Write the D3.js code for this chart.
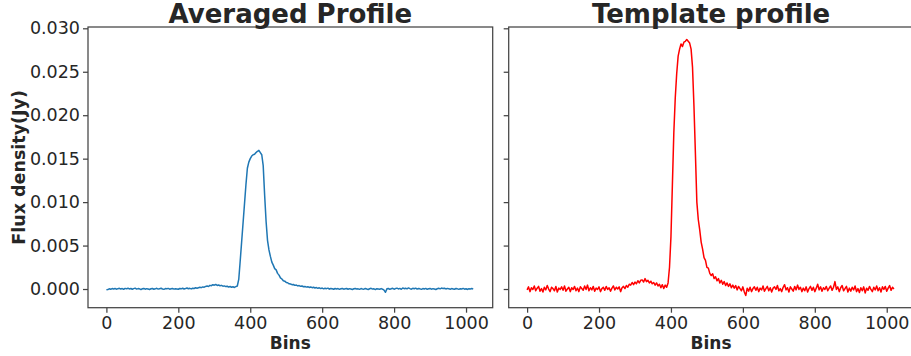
<!DOCTYPE html>
<html>
<head>
<meta charset="utf-8">
<script src="https://cdn.jsdelivr.net/npm/d3@7"></script>
<style>
  body { margin: 0; background: #fff; }
  svg { display: block; font-family: "DejaVu Sans", sans-serif; }
</style>
</head>
<body>
<svg id="chart" width="911" height="356"></svg>
<script>
var binStep = 4
var avgFlux_mJy = [
  -0.10, -0.05, 0.02, -0.03, 0.05, 0.01, 0.06, -0.02, 0.04, 0.08, 0.00, 0.05, -0.04, 0.07, 0.02, 0.09,
  0.01, 0.06, -0.03, 0.04, 0.10, -0.01, 0.05, 0.02, -0.06, 0.03, 0.07, -0.02, 0.04, 0.00, -0.05, 0.03,
  0.06, -0.03, 0.02, 0.08, -0.01, 0.04, 0.09, 0.00, -0.04, 0.05, 0.02, 0.07, -0.02, 0.03, 0.06, -0.01,
  0.04, 0.01, -0.03, 0.06, 0.02, 0.09, 0.00, 0.05, 0.12, 0.03, 0.08, 0.01, 0.10, 0.06, 0.14, 0.09,
  0.15, 0.20, 0.16, 0.24, 0.21, 0.30, 0.34, 0.29, 0.42, 0.38, 0.50, 0.44, 0.52, 0.41, 0.46, 0.38,
  0.42, 0.33, 0.36, 0.28, 0.32, 0.22, 0.29, 0.20, 0.26, 0.18, 0.27, 0.35, 1.10, 3.20, 5.40, 7.60,
  9.80, 12.0, 13.9, 14.6, 15.0, 15.3, 15.45, 15.5, 15.7, 15.85, 15.95, 15.7, 15.45, 14.2, 10.8, 7.8,
  5.6, 4.5, 3.75, 3.1, 2.75, 2.35, 2.2, 1.8, 1.6, 1.28, 1.15, 0.95, 0.90, 0.76, 0.72, 0.60,
  0.58, 0.50, 0.52, 0.42, 0.45, 0.36, 0.40, 0.31, 0.35, 0.26, 0.30, 0.22, 0.27, 0.18, 0.24, 0.15,
  0.20, 0.12, 0.17, 0.08, 0.14, 0.05, 0.11, 0.02, 0.09, 0.04, 0.10, -0.02, 0.07, 0.03, -0.03, 0.06,
  0.01, 0.05, -0.04, 0.03, 0.07, -0.02, 0.02, 0.06, -0.03, 0.04, 0.00, -0.05, 0.03, 0.07, -0.01, 0.02,
  -0.04, 0.05, 0.01, -0.02, 0.06, 0.00, -0.05, 0.03, 0.08, -0.01, 0.02, -0.06, 0.04, 0.01, -0.03, 0.05,
  -0.02, -0.12, -0.38, 0.02, 0.06, -0.04, 0.03, 0.08, -0.02, 0.05, 0.10, 0.01, 0.07, -0.03, 0.12, 0.04,
  0.09, 0.02, 0.13, 0.05, -0.02, 0.08, 0.03, 0.10, -0.01, 0.06, 0.02, -0.04, 0.05, 0.00, 0.07, -0.03,
  0.03, 0.06, -0.02, 0.04, 0.01, -0.05, 0.03, 0.08, 0.02, 0.11, 0.05, 0.09, 0.01, 0.07, 0.04, -0.02,
  0.05, 0.01, -0.03, 0.06, 0.02, -0.04, 0.04, 0.00, 0.07, -0.02, 0.03, -0.05, 0.04, 0.01, 0.06, -0.01
]
var templateFlux_mJy = [
  -0.10, 0.25, -0.30, 0.15, -0.05, 0.35, -0.20, 0.10, 0.30, -0.25, 0.05, -0.35, 0.20, -0.10, 0.40, 0.00,
  -0.30, 0.20, 0.05, -0.20, 0.30, -0.35, 0.10, -0.05, 0.25, -0.15, 0.35, -0.25, 0.00, 0.20, -0.30, 0.15,
  -0.05, 0.30, -0.20, 0.10, -0.30, 0.25, 0.05, -0.15, 0.35, -0.05, 0.45, -0.20, 0.15, -0.10, 0.30, -0.25,
  0.10, -0.05, 0.25, -0.30, 0.05, 0.20, -0.15, 0.30, -0.05, 0.15, -0.25, 0.10, 0.35, -0.10, 0.20, 0.00,
  0.25, -0.30, 0.15, 0.30, 0.05, 0.40, 0.20, 0.55, 0.45, 0.75, 0.50, 0.80, 0.60, 0.95, 0.70, 1.00,
  1.05, 0.80, 1.20, 0.85, 1.00, 0.70, 0.90, 0.60, 0.75, 0.45, 0.70, 0.35, 0.55, 0.15, 0.50, 0.05,
  0.45, 0.20, 0.70, 2.5, 6.0, 12.0, 18.0, 22.0, 24.8, 26.8, 27.6, 28.2, 27.9, 28.4, 28.5, 28.7,
  28.5, 28.3, 27.6, 25.5, 21.0, 15.6, 10.0, 8.0, 6.8, 5.4, 4.6, 3.6, 3.3, 2.5, 2.4, 1.8,
  1.55, 1.75, 1.20, 1.40, 0.95, 1.20, 0.70, 1.00, 0.55, 0.85, 0.40, 0.70, 0.30, 0.60, 0.15, 0.45,
  0.10, 0.40, -0.10, 0.30, 0.05, -0.20, 0.25, -0.35, -0.75, 0.10, -0.25, 0.20, -0.30, 0.05, 0.25, -0.15,
  0.20, -0.30, 0.10, -0.10, 0.35, -0.25, 0.05, 0.30, -0.20, 0.15, -0.35, 0.10, 0.25, -0.05, 0.40, -0.20,
  0.05, -0.30, 0.20, 0.50, -0.10, 0.15, -0.35, 0.25, 0.00, -0.25, 0.30, -0.10, 0.45, -0.05, 0.20, -0.30,
  0.10, -0.20, 0.25, -0.35, 0.05, 0.30, -0.15, 0.20, -0.30, 0.10, 0.55, -0.10, 0.25, -0.25, 0.15, -0.05,
  0.30, -0.20, 0.10, 0.35, -0.15, 0.20, 0.85, -0.05, 0.25, -0.30, 0.15, 0.40, -0.20, 0.05, 0.30, -0.35,
  0.10, -0.25, 0.20, -0.10, 0.35, -0.30, 0.05, -0.40, 0.15, -0.20, 0.25, -0.45, 0.10, -0.15, 0.30, -0.05,
  -0.30, 0.20, -0.10, 0.35, -0.20, 0.15, -0.35, 0.25, -0.05, 0.30, -0.25, 0.10, 0.40, -0.15, 0.20, 0.00
]
var xTicks = [0, 200, 400, 600, 800, 1000]
var yTicks = [0.000, 0.005, 0.010, 0.015, 0.020, 0.025, 0.030]
var titles = ["Averaged Profile", "Template profile"]
var colors = ["#1f77b4", "#ff0000"]

var svg = d3.select("#chart")
var plotTop = 27, plotBottom = 307.7
var panels = [
  { x0: 88, x1: 492.7, data: avgFlux_mJy, showY: true },
  { x0: 508.7, x1: 913.4, data: templateFlux_mJy, showY: false }
]

var y = d3.scaleLinear().domain([-0.00215, 0.03015]).range([plotBottom, plotTop])
var ink = "#262626", spine = "#444"

panels.forEach(function(p, k) {
  var x = d3.scaleLinear().domain([-51.15, 1074.15]).range([p.x0, p.x1])
  var g = svg.append("g")

  var line = d3.line()
    .x(function(d, i) { return x(i * binStep) })
    .y(function(d) { return y(d / 1000) })
  g.append("path")
    .datum(p.data)
    .attr("d", line)
    .attr("fill", "none")
    .attr("stroke", colors[k])
    .attr("stroke-width", 1.5)
    .attr("stroke-linejoin", "round")

  g.append("rect")
    .attr("x", p.x0).attr("y", plotTop)
    .attr("width", p.x1 - p.x0).attr("height", plotBottom - plotTop)
    .attr("fill", "none").attr("stroke", spine).attr("stroke-width", 1.25)

  var xAxis = g.append("g")
    .attr("transform", "translate(0," + plotBottom + ")")
    .call(d3.axisBottom(x).tickValues(xTicks).tickSize(5).tickPadding(4).tickFormat(d3.format("d")))
  xAxis.select(".domain").remove()

  var yAxis = g.append("g")
    .attr("transform", "translate(" + p.x0 + ",0)")
    .call(d3.axisLeft(y).tickValues(yTicks).tickSize(5).tickPadding(3)
      .tickFormat(p.showY ? d3.format(".3f") : ""))
  yAxis.select(".domain").remove()

  g.selectAll(".tick line").attr("stroke", spine).attr("stroke-width", 1.25)
  g.selectAll(".tick text")
    .attr("fill", ink)
    .style("font-size", "17.5px")
    .style("font-family", "DejaVu Sans")

  g.append("text")
    .attr("x", (p.x0 + p.x1) / 2).attr("y", 22.5)
    .attr("text-anchor", "middle")
    .attr("fill", ink)
    .style("font-size", "26px").style("font-weight", "bold")
    .text(titles[k])

  g.append("text")
    .attr("x", (p.x0 + p.x1) / 2).attr("y", 349)
    .attr("text-anchor", "middle")
    .attr("fill", ink)
    .style("font-size", "17px").style("font-weight", "bold")
    .text("Bins")
})

svg.append("text")
  .attr("transform", "translate(25," + (plotTop + plotBottom) / 2 + ") rotate(-90)")
  .attr("text-anchor", "middle")
  .attr("fill", ink)
  .style("font-size", "17.5px").style("font-weight", "bold")
  .text("Flux density(Jy)")
</script>
</body>
</html>
